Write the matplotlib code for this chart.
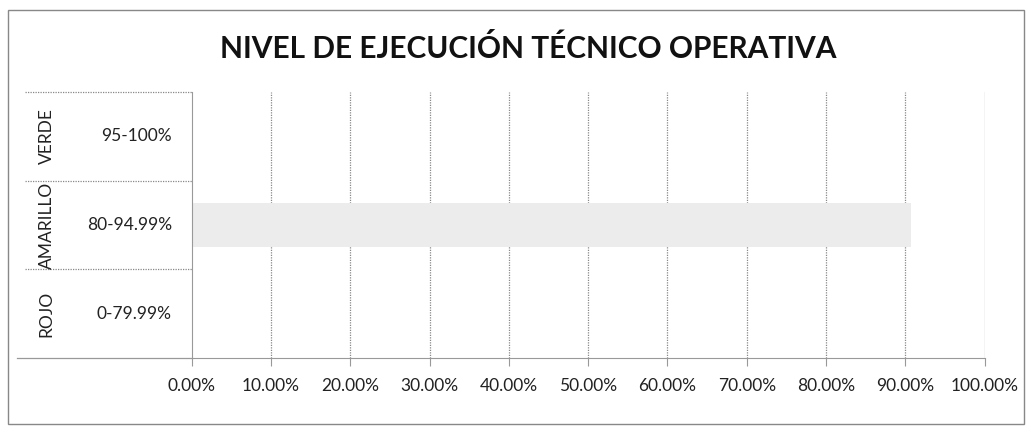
import matplotlib.pyplot as plt
from matplotlib.patches import Rectangle

# Niveles del semáforo (de abajo hacia arriba) y su rango
niveles = ['ROJO', 'AMARILLO', 'VERDE']
rangos = ['0-79.99%', '80-94.99%', '95-100%']
ejecucion = [0.0, 0.907, 0.0]
ticks_x = [0.0, 0.1, 0.2, 0.3, 0.4, 0.5, 0.6, 0.7, 0.8, 0.9, 1.0]

plt.rcParams['font.family'] = ['Lato', 'DejaVu Sans']

fig = plt.figure(figsize=(10.31, 4.36), dpi=100)
ax = fig.add_axes([0.186, 0.178, 0.769, 0.612])

ypos = range(len(niveles))
ax.barh(ypos, ejecucion, height=0.5, color='#ececec', zorder=2)

ax.set_xlim(0, 1)
ax.set_ylim(-0.5, len(niveles) - 0.5)
ax.set_xticks(ticks_x)
ax.set_xticklabels([f'{t * 100:.2f}%' for t in ticks_x], fontsize=12.5, color='#222222')
ax.tick_params(axis='x', direction='out', length=6, color='#999999', pad=8)
ax.set_yticks([])

# líneas de división verticales punteadas
for t in ticks_x[1:-1]:
    ax.axvline(t, color='#888888', lw=0.9, ls=(0, (1, 1)), zorder=1)
ax.axvline(1.0, color='#aaaaaa', lw=0.9, zorder=1)

for s in ['top', 'right']:
    ax.spines[s].set_visible(False)
ax.spines['left'].set_color('#999999')
ax.spines['bottom'].set_color('#999999')

# etiquetas de categoría en dos niveles
ytr = ax.get_yaxis_transform()
for i, (niv, rng) in enumerate(zip(niveles, rangos)):
    ax.text(-0.025, i, rng, transform=ytr, ha='right', va='center',
            fontsize=12.5, color='#222222')
    ax.text(-0.183, i, niv, transform=ytr, ha='center', va='center',
            rotation=90, fontsize=12.5, color='#222222')
for b in [0.5, 1.5, 2.5]:
    ax.plot([-0.21, 0], [b, b], transform=ytr, color='#888888', lw=0.9,
            ls=(0, (1, 1)), clip_on=False)
ax.plot([-0.22, 0], [-0.5, -0.5], transform=ytr, color='#999999', lw=0.9,
        clip_on=False)

fig.text(0.512, 0.888, 'NIVEL DE EJECUCIÓN TÉCNICO OPERATIVA', ha='center',
         va='center', fontsize=21.5, fontweight='bold', color='#111111')

# borde del gráfico
fig.patches.append(Rectangle((0.008, 0.027), 0.985, 0.95, transform=fig.transFigure,
                             fill=False, edgecolor='#888888', lw=1))

fig.savefig('out.png', dpi=100)
